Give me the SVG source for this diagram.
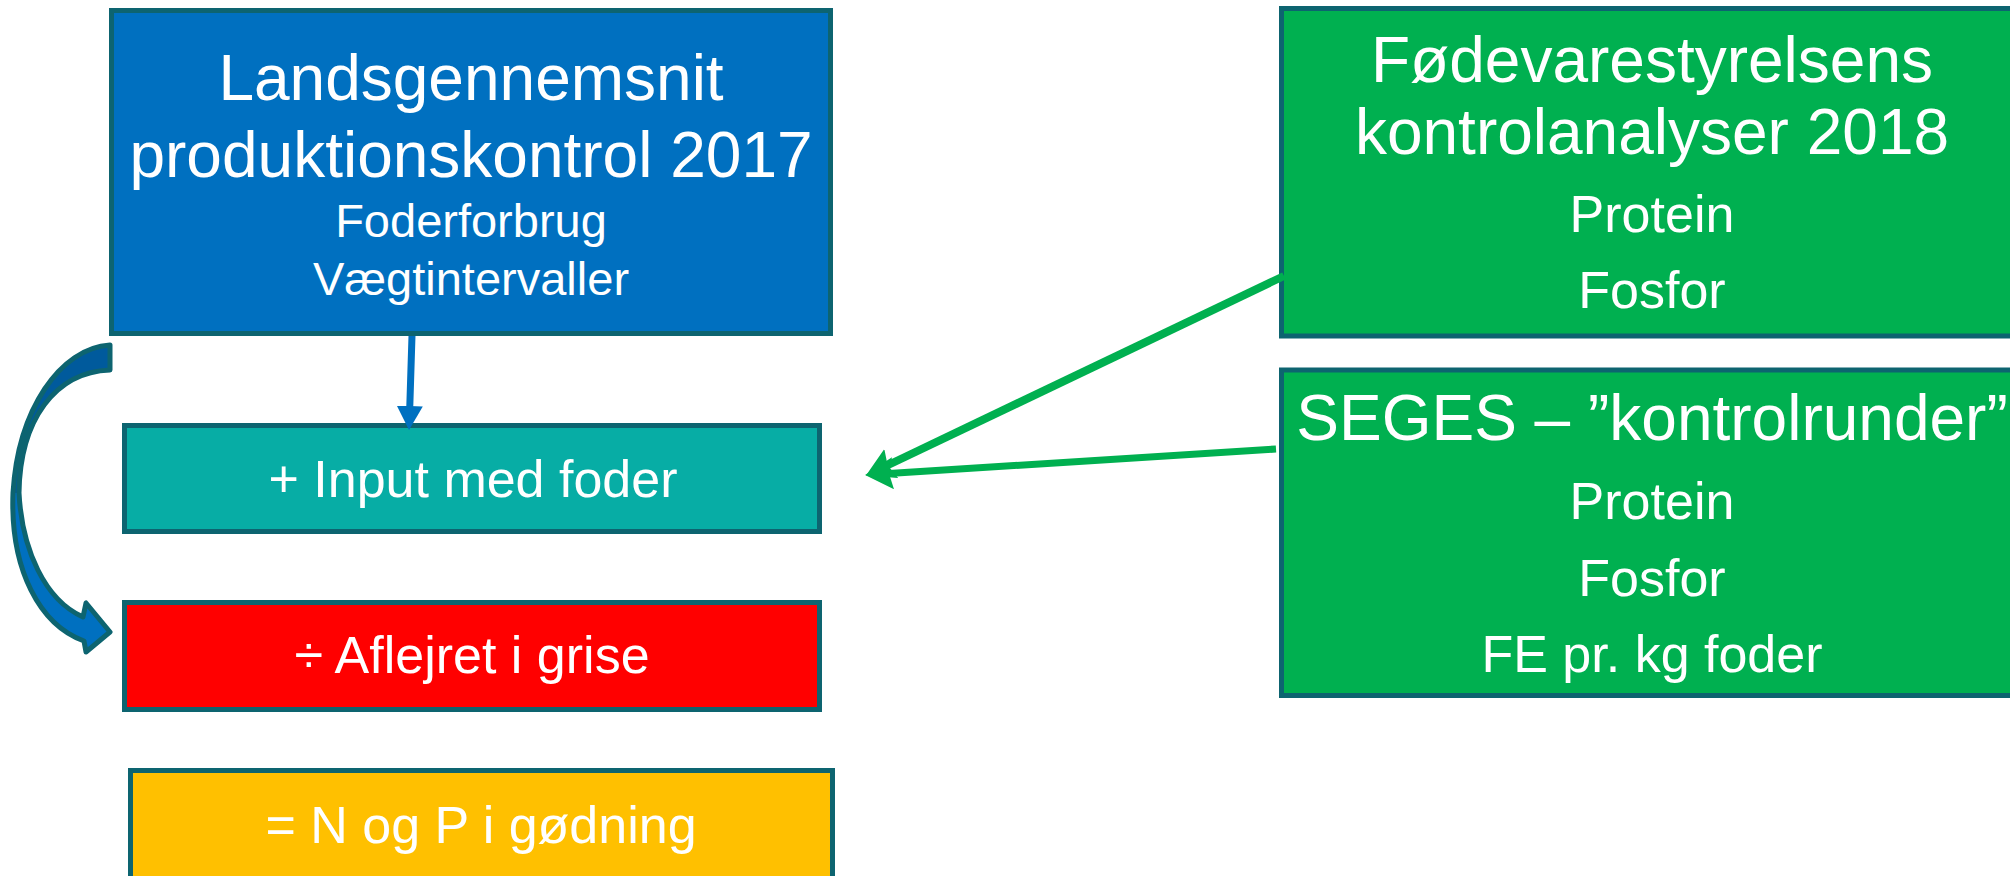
<svg xmlns="http://www.w3.org/2000/svg" width="2010" height="876" viewBox="0 0 2010 876">
<defs>
<style>
.box{stroke:#0D6470;stroke-width:5}
.t{font-family:"Liberation Sans",Arial,sans-serif;fill:#ffffff;text-anchor:middle}
.big{font-size:64px}
.mid{font-size:52px}
.sub{font-size:47px}
</style>
<marker id="gh" markerUnits="userSpaceOnUse" viewBox="0 0 28 32" refX="8" refY="16" markerWidth="28" markerHeight="32" orient="auto">
<path d="M0,0 L28,16 L0,32 L4,16 Z" fill="#00B050"/>
</marker>
<marker id="bh" markerUnits="userSpaceOnUse" viewBox="0 0 24 26" refX="6" refY="13" markerWidth="24" markerHeight="26" orient="auto">
<path d="M0,0 L24,13 L0,26 Z" fill="#0070C0"/>
</marker>
</defs>
<rect width="2010" height="876" fill="#ffffff"/>

<g id="node-landsgennemsnit">
<rect class="box" x="111.5" y="10.5" width="719" height="323" fill="#0070C0"/>
<text class="t big" x="471" y="100">Landsgennemsnit</text>
<text class="t big" x="471" y="177">produktionskontrol 2017</text>
<text class="t sub" x="471" y="237">Foderforbrug</text>
<text class="t sub" x="471" y="295">Vægtintervaller</text>
</g>

<g id="node-input">
<rect class="box" x="124.5" y="425.5" width="695" height="106" fill="#07ADA5"/>
<text class="t mid" x="473" y="497">+ Input med foder</text>
</g>

<g id="node-aflejret">
<rect class="box" x="124.5" y="602.5" width="695" height="107" fill="#FF0000"/>
<text class="t mid" x="472" y="673">÷ Aflejret i grise</text>
</g>

<g id="node-goedning">
<rect class="box" x="130.5" y="770.5" width="702" height="130" fill="#FFC000"/>
<text class="t mid" x="481" y="843">= N og P i gødning</text>
</g>

<g id="node-foedevare">
<rect class="box" x="1281.5" y="8.5" width="760" height="327.5" fill="#00B050"/>
<text class="t big" x="1652" y="82">Fødevarestyrelsens</text>
<text class="t big" x="1652" y="154">kontrolanalyser 2018</text>
<text class="t mid" x="1652" y="232">Protein</text>
<text class="t mid" x="1652" y="308">Fosfor</text>
</g>

<g id="node-seges">
<rect class="box" x="1281.5" y="370" width="760" height="325.5" fill="#00B050"/>
<text class="t big" x="1652" y="440">SEGES – ”kontrolrunder”</text>
<text class="t mid" x="1652" y="519">Protein</text>
<text class="t mid" x="1652" y="596">Fosfor</text>
<text class="t mid" x="1652" y="672">FE pr. kg foder</text>
</g>

<g id="connectors">
<line x1="412" y1="336" x2="409.6" y2="412" stroke="#0070C0" stroke-width="7" marker-end="url(#bh)"/>
<line x1="1284" y1="276" x2="884" y2="467" stroke="#00B050" stroke-width="8" marker-end="url(#gh)"/>
<line x1="1276" y1="449" x2="885" y2="473.7" stroke="#00B050" stroke-width="7" marker-end="url(#gh)"/>
<g id="curved-arrow">
<path d="M110,345 C60,348 18,410 13,493 C10,570 40,625 84,641 L86,652 L110,632 L86,603 L83,617 C45,600 22,550 19,493 C20,420 55,372 110,370 Z" fill="#0070C0"/>
<path d="M110,345 C60,348 18,410 13,493 L19,493 C20,420 55,372 110,370 Z" fill="#005A9C"/>
<path d="M110,345 C60,348 18,410 13,493 C10,570 40,625 84,641 L86,652 L110,632 L86,603 L83,617 C45,600 22,550 19,493 C20,420 55,372 110,370 Z" fill="none" stroke="#0D6470" stroke-width="5" stroke-linejoin="round"/>
</g>
</g>
</svg>
